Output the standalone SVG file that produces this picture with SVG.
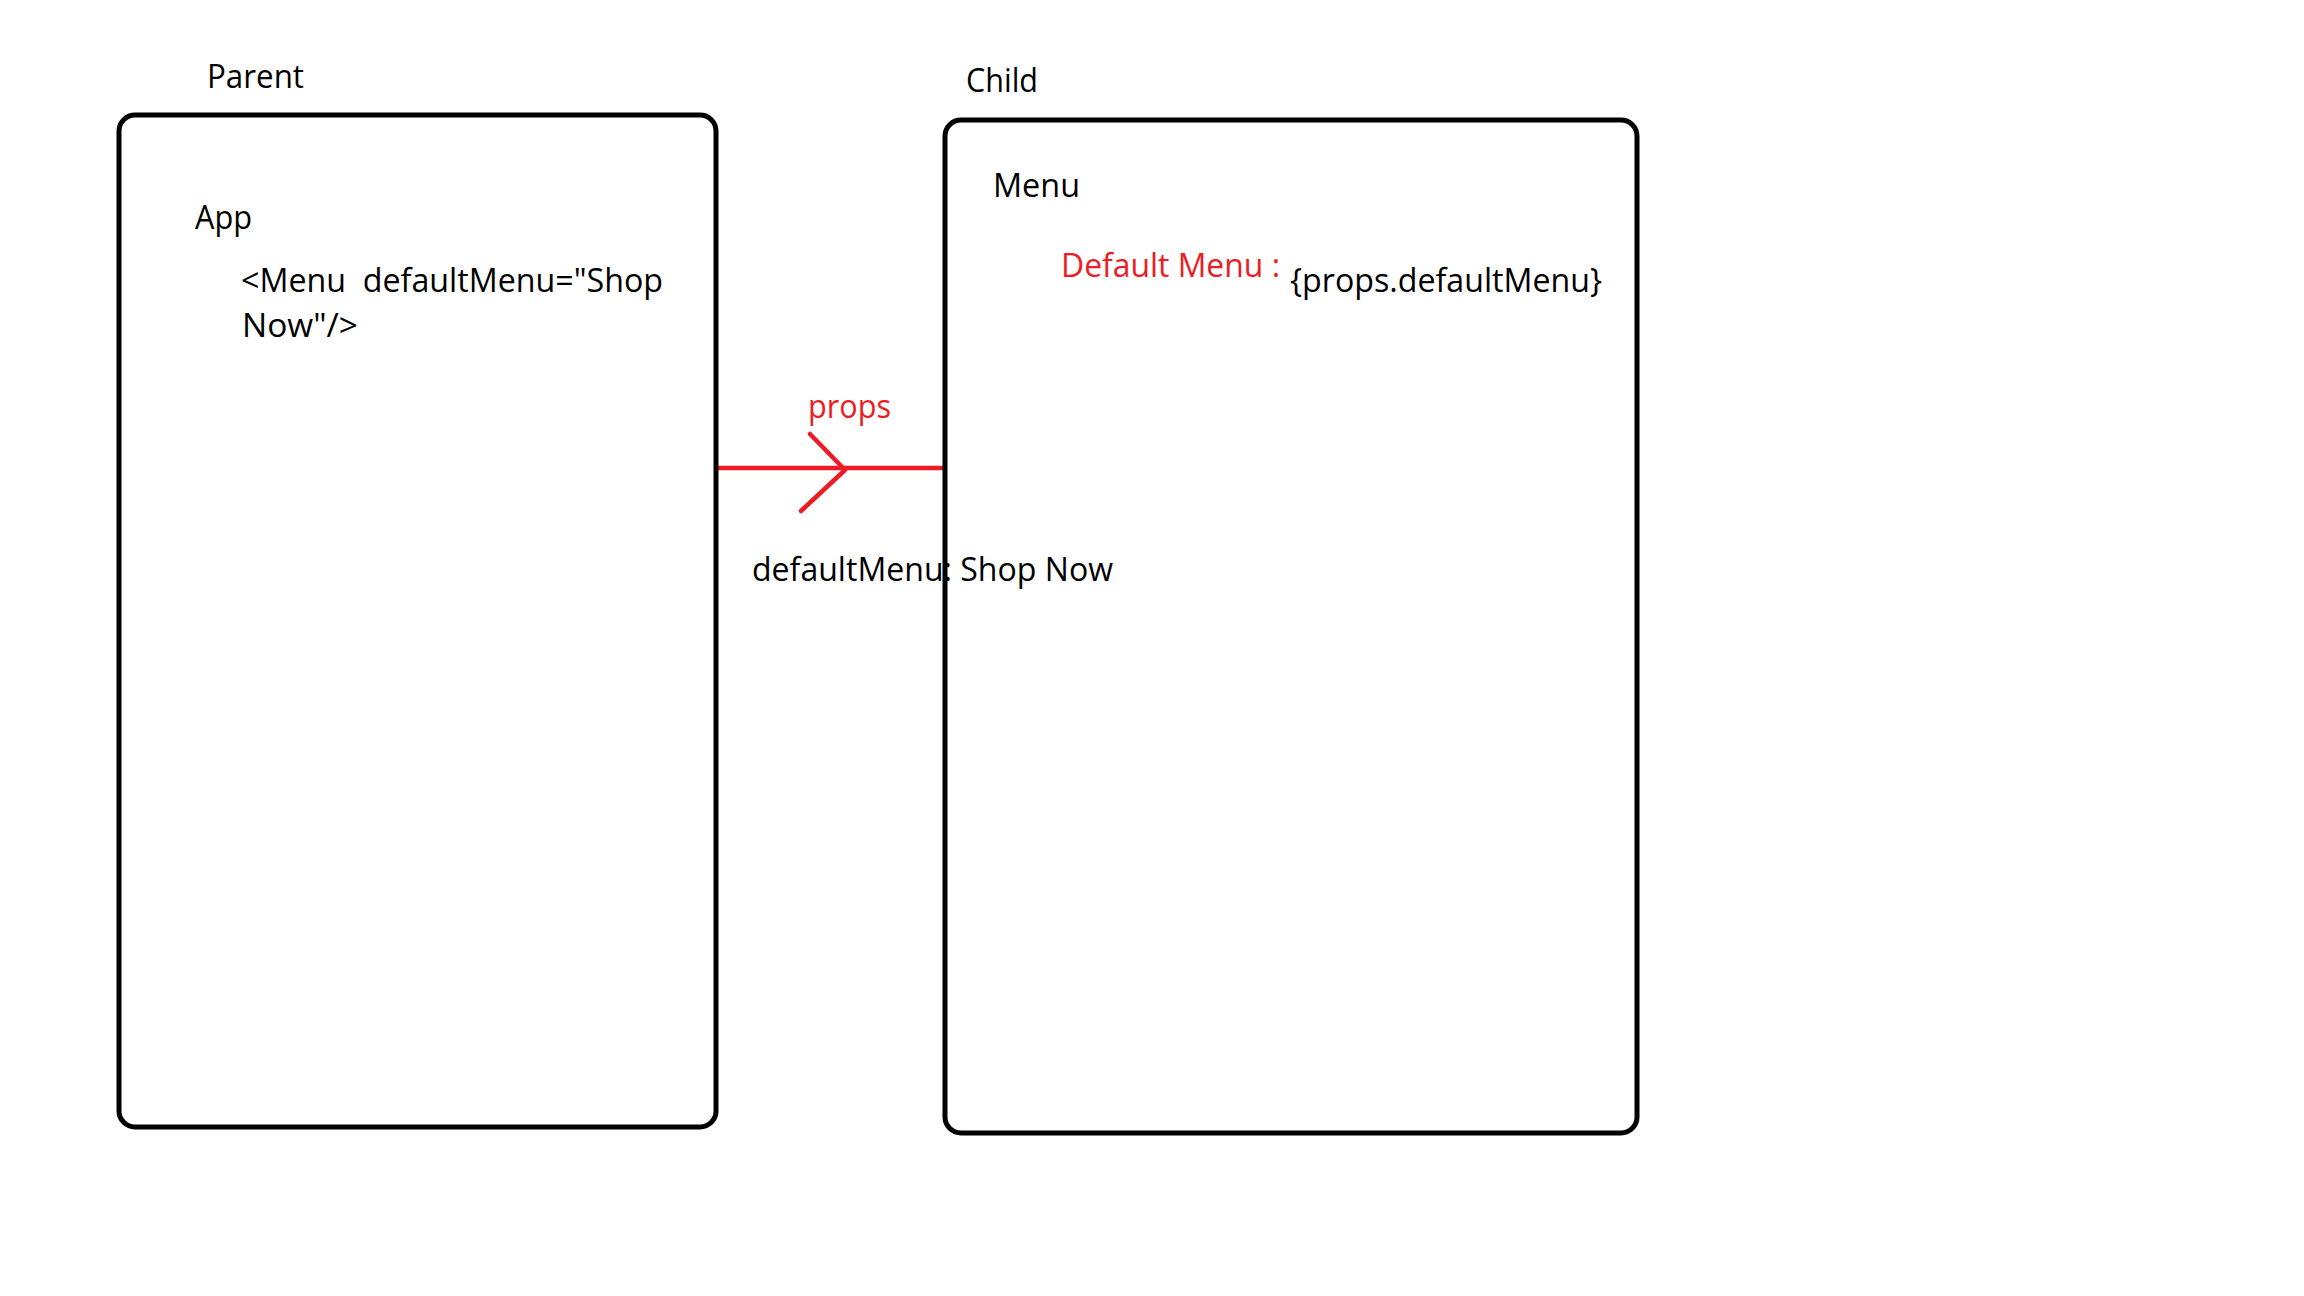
<svg xmlns="http://www.w3.org/2000/svg" width="2304" height="1296" viewBox="0 0 2304 1296">
<style>
.t{font-family:"Open Sans","Liberation Sans",sans-serif;font-size:32px;fill:#000}
.r{fill:#ED1C24}
.box{fill:none;stroke:#000;stroke-width:5}
.red{fill:none;stroke:#ED1C24;stroke-width:4.5;stroke-linecap:round;stroke-linejoin:round}
</style>
<rect width="2304" height="1296" fill="#fff"/>
<g id="labels">
<text class="t" x="207" y="88" textLength="97" lengthAdjust="spacingAndGlyphs">Parent</text>
<text class="t" x="966" y="92" textLength="72" lengthAdjust="spacingAndGlyphs">Child</text>
</g>
<g id="connectors">
<path class="red" d="M716 468 H942"/>
<path class="red" d="M810 434 L845 470 L801 511"/>
<text class="t r" x="808" y="418" textLength="83" lengthAdjust="spacingAndGlyphs">props</text>
<text class="t" x="752" y="581" textLength="361" lengthAdjust="spacingAndGlyphs">defaultMenu: Shop Now</text>
</g>
<g id="parent">
<rect class="box" x="119" y="115" width="597" height="1012" rx="16"/>
<text class="t" x="195" y="229" textLength="57" lengthAdjust="spacingAndGlyphs">App</text>
<text class="t" x="241" y="292" textLength="422" lengthAdjust="spacingAndGlyphs">&lt;Menu&#160; defaultMenu="Shop</text>
<text class="t" x="242" y="337" textLength="116" lengthAdjust="spacingAndGlyphs">Now"/&gt;</text>
</g>
<g id="child">
<rect class="box" x="945" y="120" width="692" height="1013" rx="16"/>
<text class="t" x="993" y="197" textLength="87" lengthAdjust="spacingAndGlyphs">Menu</text>
<text class="t r" x="1061" y="277" textLength="219" lengthAdjust="spacingAndGlyphs">Default Menu :</text>
<text class="t" x="1290" y="292" textLength="312" lengthAdjust="spacingAndGlyphs">{props.defaultMenu}</text>
</g>
</svg>
